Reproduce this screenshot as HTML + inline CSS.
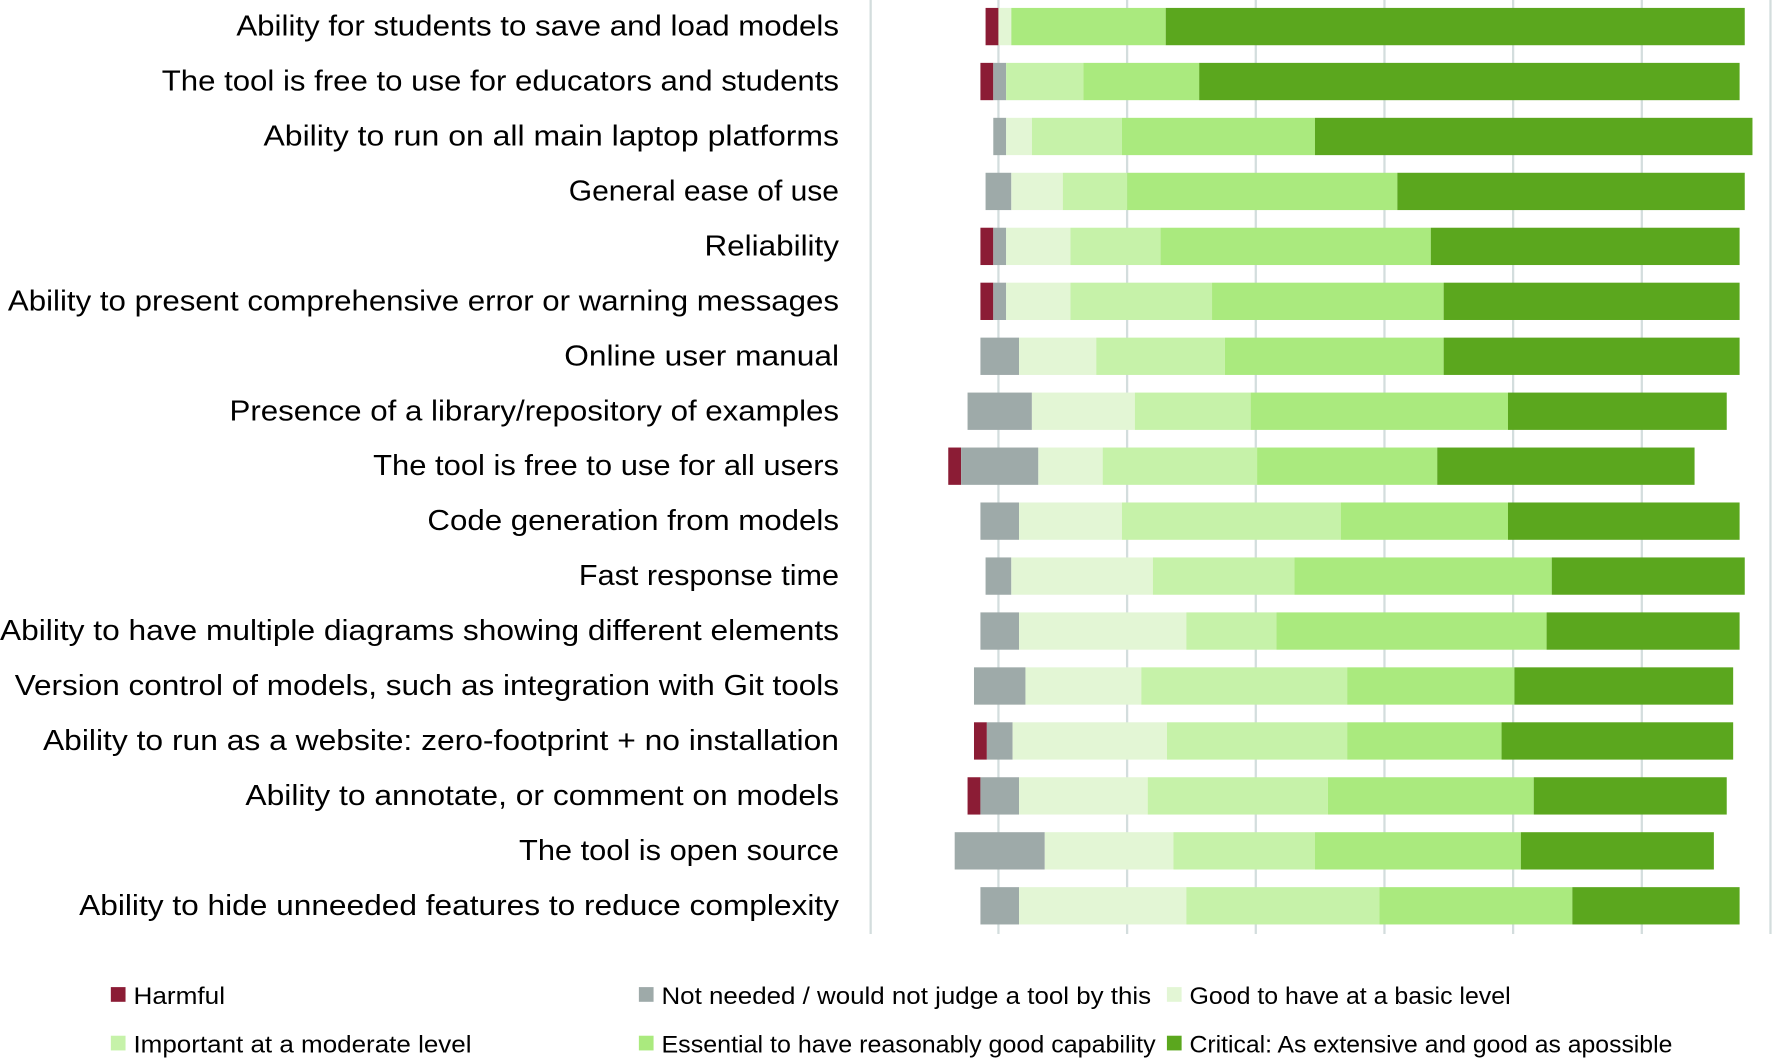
<!DOCTYPE html>
<html><head><meta charset="utf-8">
<style>
html,body{margin:0;padding:0;background:#fff;}
svg{display:block;font-family:"Liberation Sans",sans-serif;}
</style></head>
<body>
<svg id="chart" width="1773" height="1058" viewBox="0 0 1568 935.7" xmlns="http://www.w3.org/2000/svg">
<g id="grid"></g>
<g id="bars"></g>
<g id="labels"></g>
<g id="legend"></g>
</svg>
<script>
const categories = [
"Ability for students to save and load models",
"The tool is free to use for educators and students",
"Ability to run on all main laptop platforms",
"General ease of use",
"Reliability",
"Ability to present comprehensive error or warning messages",
"Online user manual",
"Presence of a library/repository of examples",
"The tool is free to use for all users",
"Code generation from models",
"Fast response time",
"Ability to have multiple diagrams showing different elements",
"Version control of models, such as integration with Git tools",
"Ability to run as a website: zero-footprint + no installation",
"Ability to annotate, or comment on models",
"The tool is open source",
"Ability to hide unneeded features to reduce complexity"];
const offsets   = [-1,-1.4,-0.4,-1,-1.4,-1.4,-1.4,-2.4,-3.9,-1.4,-1,-1.4,-1.9,-1.9,-2.4,-3.4,-1.4];
const harmful   = [1,1,0,0,1,1,0,0,1,0,0,0,0,1,1,0,0];
const notNeeded = [0,1,1,2,1,1,3,5,6,3,2,3,4,2,3,7,3];
const basic     = [1,0,2,4,5,5,6,8,5,8,11,13,9,12,10,10,13];
const important = [0,6,7,5,7,11,10,9,12,17,11,7,16,14,14,11,15];
const essential = [12,9,15,21,21,18,17,20,14,13,20,21,13,12,16,16,15];
const critical  = [45,42,34,27,24,23,23,17,20,18,15,15,17,18,15,15,13];
const seriesNames = ["Harmful","Not needed / would not judge a tool by this","Good to have at a basic level","Important at a moderate level","Essential to have reasonably good capability","Critical: As extensive and good as apossible"];
const seriesColors = ["#8b1c35","#9eaaa9","#e3f6d5","#c6f2a9","#aaea7e","#5ba71e"];
const series = [harmful,notNeeded,basic,important,essential,critical];
const gridTicks = [0,10,20,30,40,50,60];

const NS="http://www.w3.org/2000/svg";
const x0=883, unit=11.38;
function xs(v){return x0+v*unit;}
const rowTop=7, rowStep=48.6, barH=33;
function yRow(i){return rowTop+i*rowStep;}
function mk(tag,attrs,parent){const e=document.createElementNS(NS,tag);for(const k in attrs)e.setAttribute(k,attrs[k]);parent.appendChild(e);return e;}

const grid=document.getElementById('grid');
const ax=mk('line',{x1:770,x2:770,y1:0,y2:826,stroke:'#d3dddd','stroke-width':2},grid);


gridTicks.forEach(t=>{
  const l=mk('line',{x1:xs(t),x2:xs(t),y1:0,y2:826,stroke:'#d3dddd','stroke-width':2},grid);
  
  
});

const bars=document.getElementById('bars');
const labels=document.getElementById('labels');
const labelStart=[209,143,233,503,623,7,499,203,330,378,512,0,13,38,217,459,70];
categories.forEach((c,i)=>{
  let v=offsets[i];
  series.forEach((s,k)=>{
    const w=s[i];
    if(w>0){
      const r=mk('rect',{x:xs(v),y:yRow(i),width:w*unit,height:barH,fill:seriesColors[k]},bars);
      
      
    }
    v+=w;
  });
  const t=mk('text',{x:742,y:yRow(i)+barH/2+8,'text-anchor':'end','font-size':25,fill:'#000',textLength:742-labelStart[i],lengthAdjust:'spacingAndGlyphs'},labels);
  t.textContent=c;
  
  
});

const legend=document.getElementById('legend');
const legX=[98,565,1032], legY=[880,923];
const legEnd=[199,1018,1336,417,1022,1479];
seriesNames.forEach((n,k)=>{
  const cx=legX[k%3], cy=legY[Math.floor(k/3)];
  const g=mk('g',{},legend);
  
  
  mk('rect',{x:cx,y:cy-7,width:13,height:13,fill:seriesColors[k]},g);
  const t=mk('text',{x:cx+20,y:cy+8,'font-size':21,fill:'#000',textLength:legEnd[k]-cx-20,lengthAdjust:'spacingAndGlyphs'},g);
  t.textContent=n;
});
</script>
</body></html>
